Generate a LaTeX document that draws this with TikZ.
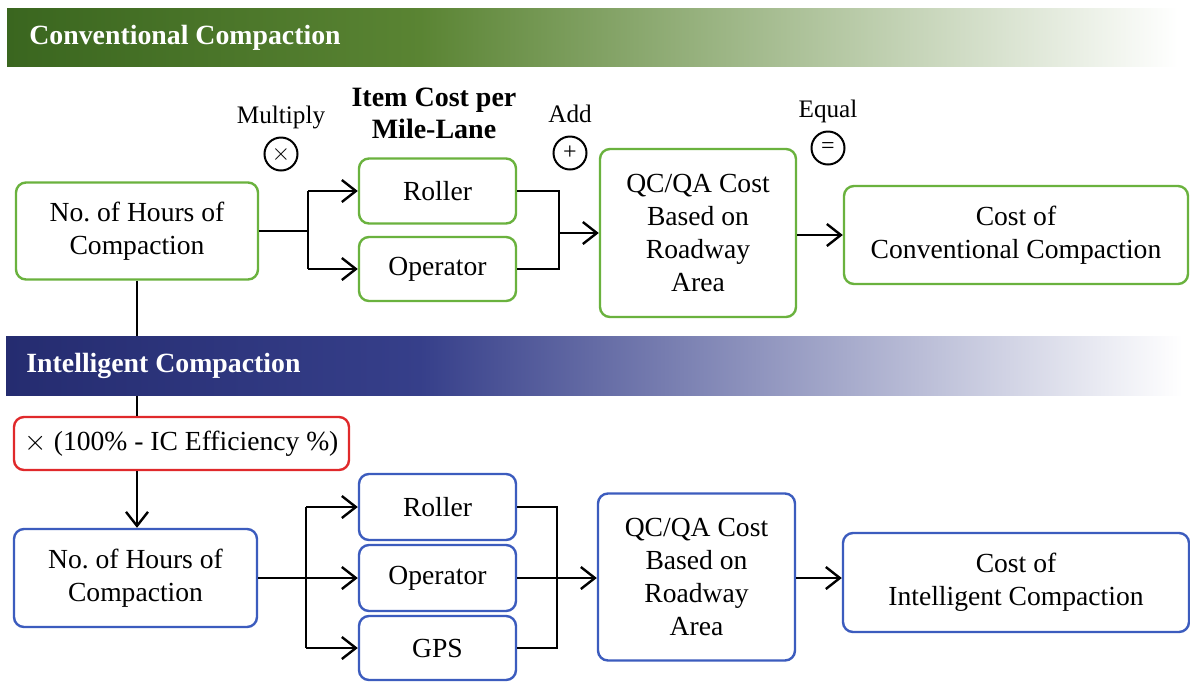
\documentclass[tikz,border=0pt]{standalone}
\usepackage{fontspec}
\setmainfont{Liberation Serif}
\frenchspacing
\usetikzlibrary{arrows.meta}
\definecolor{gA}{HTML}{3A661F}
\definecolor{gB}{HTML}{5A8433}
\definecolor{bA}{HTML}{252C70}
\definecolor{bB}{HTML}{363F8A}
\definecolor{gline}{HTML}{6AB23E}
\definecolor{bline}{HTML}{3C5CBE}
\definecolor{rline}{HTML}{E0292B}
\tikzset{
  bx/.style 2 args={draw, rounded corners=5pt, line width=1.2pt, inner sep=0pt,
    minimum width=#1*0.5pt, minimum height=#2*0.5pt, align=center,
    font=\fontsize{13.8}{16.5}\selectfont},
  gbox/.style={draw=gline},
  bbox/.style={draw=bline},
  rbox/.style={draw=rline},
  ln/.style={line width=1.2pt, black},
  arr/.style={-{Straight Barb[length=7pt,width=11pt,line width=1.2pt]}},
  opc/.style={circle, draw, line width=1pt, minimum size=16.5pt, inner sep=0pt,
    font=\fontsize{12}{12}\selectfont},
  lbl/.style={font=\fontsize{12.6}{14}\selectfont, inner sep=0pt},
  hdr/.style={anchor=base west, inner sep=0pt, text=white,
    font=\bfseries\fontsize{13.9}{16}\selectfont}
}
\begin{document}
\begin{tikzpicture}[x=0.5pt,y=-0.5pt]
\fill[white] (0,0) rectangle (1190,682);
\useasboundingbox (0,0) rectangle (1190,682);

% ---------- Conventional ----------
\shade[left color=gA, right color=gB] (7,8) rectangle (421,66);
\shade[left color=gB, right color=white] (420,8) rectangle (1178,66);
\node[hdr] (h1) at (29,44) {Conventional Compaction};

\node[bx={242}{97}, gbox] (hrs1) at (137,231) {No. of Hours of\\Compaction};
\node[bx={157}{65}, gbox] (rol1) at (437.5,191) {Roller};
\node[bx={157}{64}, gbox] (opr1) at (437.5,269) {Operator};
\node[bx={196}{168}, gbox] (qc1) at (698,233) {QC/QA Cost\\Based on\\Roadway\\Area};
\node[bx={344}{98}, gbox] (cost1) at (1016,235) {Cost of\\Conventional Compaction};

\node[lbl] (mul) at (281,117) {Multiply};
\node[opc] (mulc) at (281,154) {$\times$};
\node[align=center, inner sep=0pt, font=\bfseries\fontsize{14}{16}\selectfont] (item) at (434,113) {Item Cost per\\Mile-Lane};
\node[lbl] (add) at (570,114) {Add};
\node[opc] (addc) at (570,153) {+};
\node[lbl] (eq) at (828,111) {Equal};
\node[opc] (eqc) at (828,148) {=};

\coordinate (j1) at (308,231);
\coordinate (j2) at (559,231);
\draw[ln] (hrs1.east) -- (hrs1.east -| j1);
\draw[ln] (j1 |- rol1.west) -- (j1 |- opr1.west);
\draw[ln,arr] (j1 |- rol1.west) -- (rol1.west);
\draw[ln,arr] (j1 |- opr1.west) -- (opr1.west);
\draw[ln] (rol1.east) -- (rol1.east -| j2) -- (j2 |- opr1.east) -- (opr1.east);
\draw[ln,arr] (j2 |- qc1.west) -- (qc1.west);
\draw[ln,arr] (qc1.east |- cost1.west) -- (cost1.west);

% ---------- Intelligent ----------
\node[bx={335}{53}, rbox] (red) at (181.5,443.5) {$\times$ (100\% - IC Efficiency \%)};
\node[bx={243}{98}, bbox] (hrs2) at (135.5,578) {No. of Hours of\\Compaction};
\draw[ln] (hrs1.south) -- (hrs1.south |- red.north);

\shade[left color=bA, right color=bB] (6,336) rectangle (421,395);
\shade[left color=bB, right color=white] (420,336) rectangle (1182,395);
\node[hdr] (h2) at (26,372) {Intelligent Compaction};

\node[bx={157}{66}, bbox] (rol2) at (437.5,507) {Roller};
\node[bx={157}{66}, bbox] (opr2) at (437.5,578) {Operator};
\node[bx={157}{64}, bbox] (gps2) at (437.5,648) {GPS};
\node[bx={197}{167}, bbox] (qc2) at (696.5,577) {QC/QA Cost\\Based on\\Roadway\\Area};
\node[bx={346}{99}, bbox] (cost2) at (1016,582.5) {Cost of\\Intelligent Compaction};

\draw[ln,arr] (red.south -| hrs1.south) -- (hrs2.north -| hrs1.south);

\coordinate (k1) at (306,578);
\coordinate (k2) at (557,578);
\draw[ln] (hrs2.east) -- (hrs2.east -| k1);
\draw[ln] (k1 |- rol2.west) -- (k1 |- gps2.west);
\draw[ln,arr] (k1 |- rol2.west) -- (rol2.west);
\draw[ln,arr] (k1 |- opr2.west) -- (opr2.west);
\draw[ln,arr] (k1 |- gps2.west) -- (gps2.west);
\draw[ln] (rol2.east) -- (rol2.east -| k2) -- (k2 |- gps2.east) -- (gps2.east);
\draw[ln,arr] (opr2.east) -- (opr2.east -| qc2.west);
\draw[ln,arr] (qc2.east |- k2) -- (cost2.west |- k2);
\end{tikzpicture}
\end{document}
